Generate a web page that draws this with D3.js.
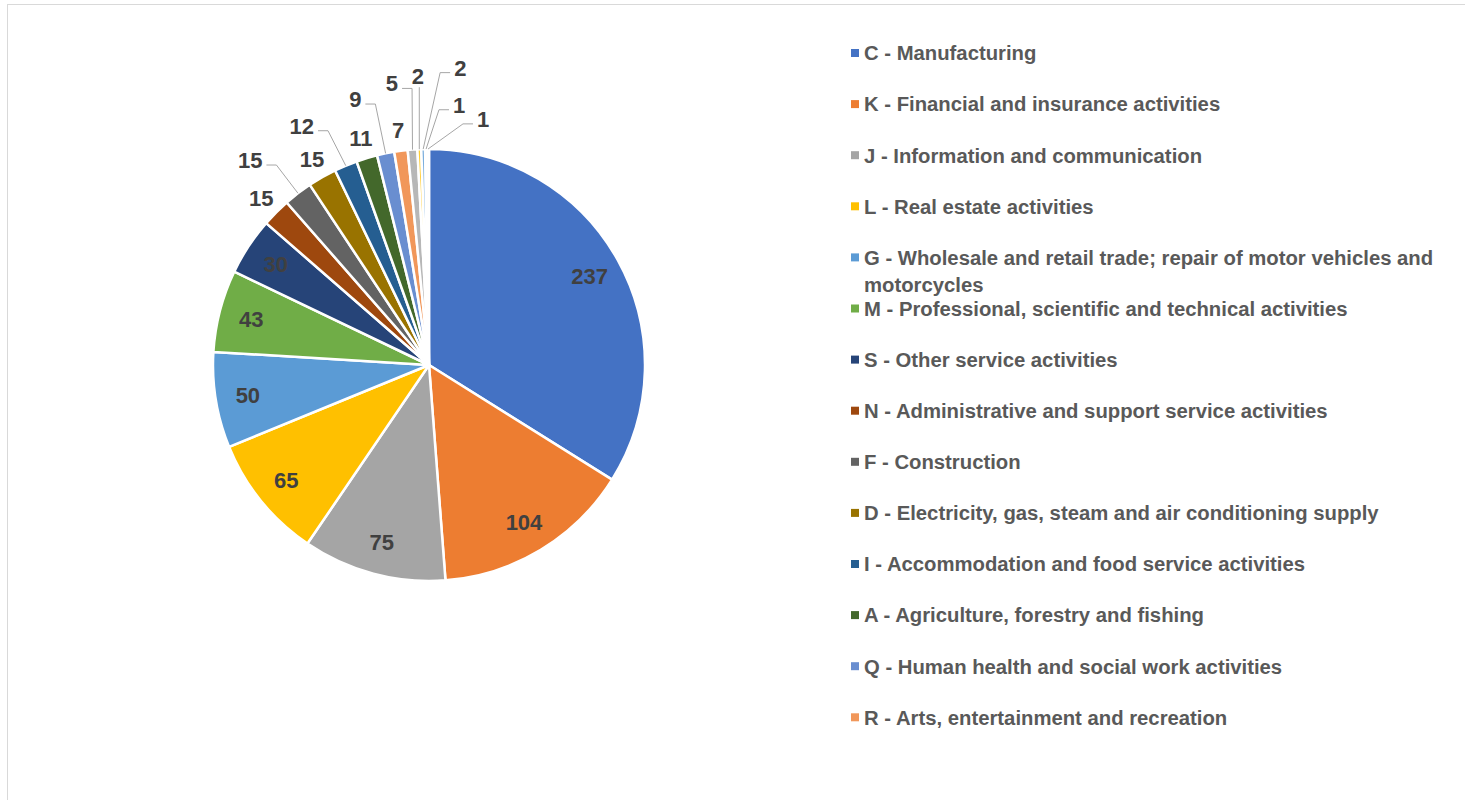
<!DOCTYPE html>
<html>
<head>
<meta charset="utf-8">
<script src="https://cdn.jsdelivr.net/npm/d3@7/dist/d3.min.js"></script>
<style>
  html, body { margin: 0; padding: 0; background: #ffffff; }
  svg { display: block; }
</style>
</head>
<body>
<svg id="chart" width="1465" height="800"></svg>
<script>
// Enterprises by economic activity (NACE section)
const values = [237, 104, 75, 65, 50, 43, 30, 15, 15, 15, 12, 11, 9, 7, 5, 2, 2, 1, 1];

const legendLabels = [
  "C - Manufacturing",
  "K - Financial and insurance activities",
  "J - Information and communication",
  "L - Real estate activities",
  "G - Wholesale and retail trade; repair of motor vehicles and|motorcycles",
  "M - Professional, scientific and technical activities",
  "S - Other service activities",
  "N - Administrative and support service activities",
  "F - Construction",
  "D - Electricity, gas, steam and air conditioning supply",
  "I - Accommodation and food service activities",
  "A - Agriculture, forestry and fishing",
  "Q - Human health and social work activities",
  "R - Arts, entertainment and recreation"
];

const colors = [
  "#4472C4", "#ED7D31", "#A5A5A5", "#FFC000", "#5B9BD5", "#70AD47",
  "#264478", "#9E480E", "#636363", "#997300", "#255E91", "#43682B",
  "#698ED0", "#F1975A", "#B7B7B7", "#FFCD33", "#7CAFDD", "#8CC168", "#335AA1"
];

// Label placement per slice: inside, just outside, or with a leader line
// (leader labels given as polar angle in degrees and distance from centre)
const labelLayout = [
  {type: "in"}, {type: "in"}, {type: "in"}, {type: "in"}, {type: "in"}, {type: "in"}, {type: "in"},
  {type: "out"},
  {type: "lead", angle: 318.9, dist: 272},
  {type: "out"},
  {type: "lead", angle: 332, dist: 271},
  {type: "out"},
  {type: "lead", angle: 344.5, dist: 276},
  {type: "out"},
  {type: "lead", angle: 352.5, dist: 284},
  {type: "lead", angle: 357.8, dist: 289},
  {type: "lead", angle: 6, dist: 299},
  {type: "lead", angle: 6.6, dist: 262},
  {type: "lead", angle: 12.4, dist: 252}
];

const FONT = "'Liberation Sans Narrow', 'Liberation Sans', Arial, sans-serif";
const svg = d3.select("#chart");

// chart area border
svg.append("rect")
  .attr("x", 7.5).attr("y", 4.5)
  .attr("width", 1500).attr("height", 900)
  .attr("fill", "none").attr("stroke", "#D9D9D9").attr("stroke-width", 1);

const cx = 429, cy = 365, r = 216;
const g = svg.append("g").attr("transform", `translate(${cx},${cy})`);

const pie = d3.pie().sort(null).value(d => d)(values);
const arc = d3.arc().innerRadius(0).outerRadius(r);

g.selectAll("path.slice")
  .data(pie)
  .join("path")
  .attr("class", "slice")
  .attr("d", arc)
  .attr("fill", (d, i) => colors[i])
  .attr("stroke", "#ffffff")
  .attr("stroke-width", 2.5)
  .attr("stroke-linejoin", "round");

const polar = (angDeg, dist) => {
  const a = angDeg * Math.PI / 180;
  return [Math.sin(a) * dist, -Math.cos(a) * dist];
};

const labels = g.append("g");
pie.forEach((d, i) => {
  const lay = labelLayout[i];
  const mid = (d.startAngle + d.endAngle) / 2 * 180 / Math.PI;
  let pos;
  if (lay.type === "in") pos = polar(mid, r * 0.85);
  else if (lay.type === "out") pos = polar(mid, r + 21);
  else pos = polar(lay.angle, lay.dist);

  const t = labels.append("text")
    .attr("x", pos[0]).attr("y", pos[1])
    .attr("text-anchor", "middle")
    .attr("dy", "0.36em")
    .attr("font-family", FONT)
    .attr("font-weight", "bold")
    .attr("font-size", 22)
    .attr("fill", "#404040")
    .text(d.value);

  if (lay.type === "lead") {
    const w = t.node().getComputedTextLength();
    const edge = polar(mid, r);
    let pts;
    if (Math.abs(edge[0] - pos[0]) < 6) {
      pts = [[edge[0], pos[1] + 11], edge];
    } else if (edge[0] > pos[0]) {
      const sx = pos[0] + w / 2 + 4;
      pts = [[sx, pos[1] + 5], [sx + 10, pos[1] + 5], edge];
    } else {
      const sx = pos[0] - w / 2 - 4;
      pts = [[sx, pos[1] + 5], [sx - 10, pos[1] + 5], edge];
    }
    labels.append("path")
      .attr("d", d3.line()(pts))
      .attr("fill", "none")
      .attr("stroke", "#A6A6A6")
      .attr("stroke-width", 1);
  }
});

// legend
const legend = svg.append("g").attr("transform", "translate(851,53)");
const rowH = 51.1;
legendLabels.forEach((lab, i) => {
  const row = legend.append("g").attr("transform", `translate(0,${i * rowH})`);
  row.append("rect")
    .attr("x", 0).attr("y", -4).attr("width", 8).attr("height", 8)
    .attr("fill", colors[i]);
  const lines = lab.split("|");
  const t = row.append("text")
    .attr("x", 13)
    .attr("font-family", FONT)
    .attr("font-weight", "bold")
    .attr("font-size", 20.3)
    .attr("fill", "#595959");
  lines.forEach((ln, j) => {
    t.append("tspan")
      .attr("x", 13)
      .attr("y", j * 27)
      .attr("dy", "0.36em")
      .text(ln);
  });
});
</script>
</body>
</html>
